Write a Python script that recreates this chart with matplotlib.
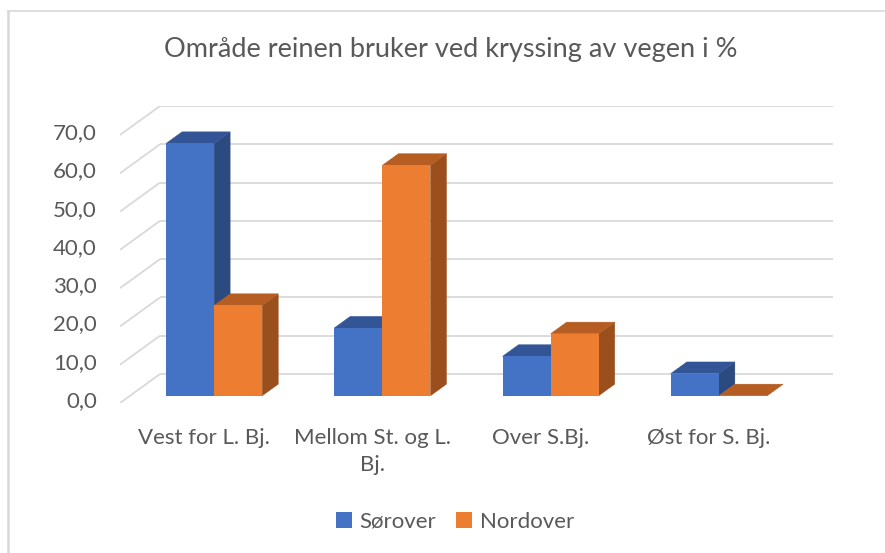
import matplotlib
matplotlib.use("Agg")
import matplotlib.pyplot as plt
from matplotlib.patches import Polygon, Rectangle
import numpy as np

categories = ["Vest for L. Bj.", "Mellom St. og L.\nBj.", "Over S.Bj.", "Øst for S. Bj."]
series_names = ["Sørover", "Nordover"]
sorover = [65.9, 17.7, 10.3, 5.8]
nordover = [23.6, 60.2, 16.2, 0.0]
yticks = [0, 10, 20, 30, 40, 50, 60, 70]
ytick_labels = ["0,0", "10,0", "20,0", "30,0", "40,0", "50,0", "60,0", "70,0"]
title = "Område reinen bruker ved kryssing av vegen i %"

FONT = ["Lato", "DejaVu Sans"]
TXT = "#595959"
GRID = "#d9d9d9"
front_cols = ["#4472C4", "#ED7D31"]
top_cols = ["#335596", "#B55D22"]
side_cols = ["#2B4A80", "#9A4F1D"]

W, H = 885, 553
fig = plt.figure(figsize=(W / 100, H / 100), dpi=100)

# plot area (pixels): front-left floor at x=120, back-right at 833; floor front at y=403, top back at 106
px_left, px_right, px_bottom, px_top = 120, 833, 403, 106
ax = fig.add_axes([px_left / W, 1 - px_bottom / H, (px_right - px_left) / W, (px_bottom - px_top) / H])

DX = 40 / 168.2          # depth offset in x units (full depth)
DY = 29 / 3.83           # depth offset in value units (full depth)
ymax_back = 70
ax.set_xlim(-0.5, 3.5 + DX)
ax.set_ylim(0, ymax_back + DY)
ax.axis("off")

# walls gridlines: side wall diagonal + back wall horizontal
for v in yticks:
    ax.plot([-0.5, -0.5 + DX], [v, v + DY], color=GRID, lw=1.3, solid_capstyle="butt", zorder=1)
    ax.plot([-0.5 + DX, 3.5 + DX], [v + DY, v + DY], color=GRID, lw=1.3, solid_capstyle="butt", zorder=1)

bw = 0.286
d0, d1 = 0.25, 0.65


def box(x0, x1, h, i, z):
    ox0, oy0 = d0 * DX, d0 * DY
    ox1, oy1 = d1 * DX, d1 * DY
    side = Polygon([(x1 + ox0, oy0), (x1 + ox1, oy1), (x1 + ox1, h + oy1), (x1 + ox0, h + oy0)],
                   closed=True, facecolor=side_cols[i], edgecolor=side_cols[i], lw=0.3, zorder=z)
    top = Polygon([(x0 + ox0, h + oy0), (x1 + ox0, h + oy0), (x1 + ox1, h + oy1), (x0 + ox1, h + oy1)],
                  closed=True, facecolor=top_cols[i], edgecolor=top_cols[i], lw=0.3, zorder=z)
    ax.add_patch(side)
    ax.add_patch(top)
    ax.bar([x0 + ox0], [h], width=x1 - x0, bottom=oy0, align="edge", color=front_cols[i],
           edgecolor="none", zorder=z + 0.5)


for k in range(len(categories)):
    z = 2 + k * 4
    box(k - bw, k, sorover[k], 0, z)
    box(k, k + bw, nordover[k], 1, z + 2)

# y tick labels (front)
for v, lab in zip(yticks, ytick_labels):
    ax.text(-0.5 - 23 / 168.2, v + 0.5, lab, ha="right", va="center", fontsize=16,
            color=TXT, family=FONT)

# category labels
for k, c in enumerate(categories):
    ax.text(k, -25 / 3.83, c, ha="center", va="top", fontsize=16, color=TXT,
            family=FONT, linespacing=1.45)

fig.text(451 / W, 1 - 49 / H, title, ha="center", va="center", fontsize=19.5, color=TXT, family=FONT)

# legend
legend_handles = [Rectangle((0, 0), 1, 1, facecolor=c) for c in front_cols]
fig.legend(legend_handles, series_names, loc="center", bbox_to_anchor=(455 / W, 1 - 522 / H),
           ncol=2, frameon=False, prop={"family": FONT, "size": 16}, labelcolor=TXT,
           handlelength=0.7, handleheight=0.7, handletextpad=0.35, columnspacing=0.9)

# chart border (left and top visible)
fig.add_artist(plt.Line2D([7.5 / W, 7.5 / W], [0, 1 - 10.5 / H], color=GRID, lw=1.8,
                          transform=fig.transFigure))
fig.add_artist(plt.Line2D([7.5 / W, 1], [1 - 10.5 / H, 1 - 10.5 / H], color=GRID, lw=1.2,
                          transform=fig.transFigure))

fig.savefig("out.png", dpi=100, facecolor="white")
